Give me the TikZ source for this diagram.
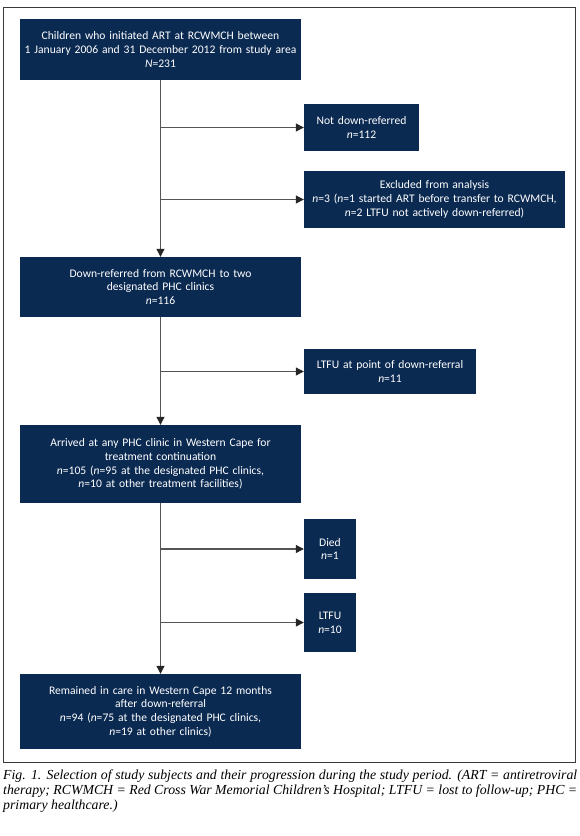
\documentclass[tikz,border=0pt]{standalone}
\usepackage{fontspec}
\setmainfont{Carlito}
\newfontfamily\capfont{Liberation Serif}
\usetikzlibrary{arrows.meta}
\definecolor{navy}{HTML}{0B2A52}
\definecolor{linegray}{HTML}{555555}
\definecolor{framegray}{HTML}{3A3A3A}
\tikzset{
  box/.style={fill=navy, text=white, inner sep=0pt, align=center,
    font=\fontsize{11.6}{13.7}\selectfont},
  arr/.style={draw=linegray, line width=1.1pt,
    -{Triangle[length=8pt,width=8pt,color=black!85]}},
}
\begin{document}
\begin{tikzpicture}[x=1pt,y=-1pt]
    \useasboundingbox (0,0) rectangle (580,836);
    \draw[framegray, line width=0.9pt] (3,7) rectangle (575,762);

    \node[box, text width=281pt, minimum height=61pt] (start) at (160.5,49.5) {Children who initiated ART at RCWMCH between\\1 January 2006 and 31 December 2012 from study area\\\textit{N}=231};
    \node[box, text width=115pt, minimum height=47pt] (notdown) at (361.5,127.5) {Not down-referred\\\textit{n}=112};
    \node[box, text width=261pt, minimum height=57pt] (excl) at (434.5,199.5) {Excluded from analysis\\\textit{n}=3 (\textit{n}=1 started ART before transfer to RCWMCH,\\\textit{n}=2 LTFU not actively down-referred)};
    \node[box, text width=281pt, minimum height=60pt] (downref) at (160.5,287) {Down-referred from RCWMCH to two\\designated PHC clinics\\\textit{n}=116};
    \node[box, text width=172pt, minimum height=45pt] (ltfupoint) at (390,371.5) {LTFU at point of down-referral\\\textit{n}=11};
    \node[box, text width=281pt, minimum height=78pt] (arrived) at (160.5,464) {Arrived at any PHC clinic in Western Cape for\\treatment continuation\\\textit{n}=105 (\textit{n}=95 at the designated PHC clinics,\\\textit{n}=10 at other treatment facilities)};
    \node[box, text width=52pt, minimum height=60pt] (died) at (330,549) {Died\\\textit{n}=1};
    \node[box, text width=52pt, minimum height=59pt] (ltfu) at (330,622.5) {LTFU\\\textit{n}=10};
    \node[box, text width=281pt, minimum height=75pt] (remained) at (160.5,711.5) {Remained in care in Western Cape 12 months\\after down-referral\\\textit{n}=94 (\textit{n}=75 at the designated PHC clinics,\\\textit{n}=19 at other clinics)};

    \draw[arr] (start.south) -- (downref.north);
    \draw[arr] (start.south |- notdown.west) -- (notdown.west);
    \draw[arr] (start.south |- excl.west) -- (excl.west);
    \draw[arr] (downref.south) -- (arrived.north);
    \draw[arr] (downref.south |- ltfupoint.west) -- (ltfupoint.west);
    \draw[arr] (arrived.south) -- (remained.north);
    \draw[arr] (arrived.south |- died.west) -- (died.west);
    \draw[arr] (arrived.south |- ltfu.west) -- (ltfu.west);

    \node[anchor=north west, inner sep=0pt, text width=574pt, align=justify,
      font=\capfont\itshape\fontsize{13.8}{14.8}\selectfont] (caption) at (3,770)
      {Fig. 1. Selection of study subjects and their progression during the study period. (ART = antiretroviral\linebreak therapy; RCWMCH = Red Cross War Memorial Children’s Hospital; LTFU = lost to follow-up; PHC~=\linebreak primary healthcare.)};
\end{tikzpicture}
\end{document}
